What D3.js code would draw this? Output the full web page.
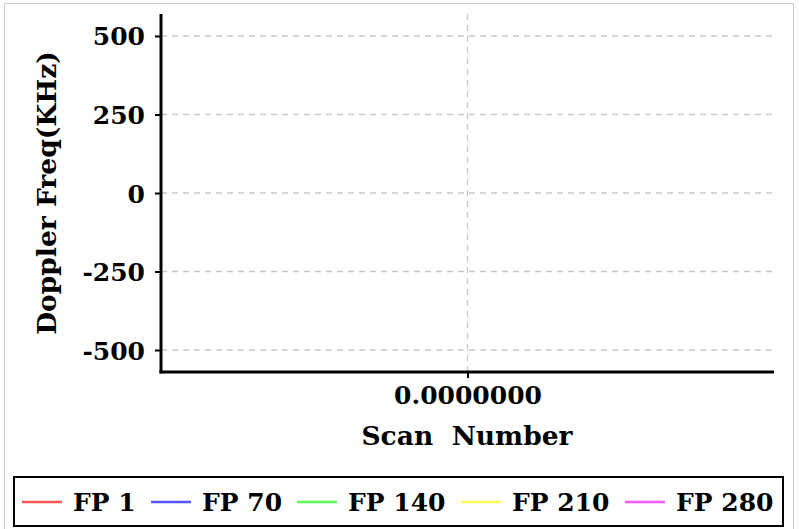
<!DOCTYPE html>
<html><head><meta charset="utf-8">
<script src="https://cdn.jsdelivr.net/npm/d3@7"></script>
<style>body{margin:0;background:#fff}svg{display:block}</style>
</head><body>
<svg id="c" width="799" height="529"></svg>
<script>
const seriesNames = ["FP 1", "FP 70", "FP 140", "FP 210", "FP 280"];
const seriesColors = ["#ff5555", "#5555ff", "#55ff55", "#ffff55", "#ff55ff"];
const seriesValues = [[], [], [], [], []];
const yTicks = [-500, -250, 0, 250, 500];
const xTicks = [0];
const yDomain = [-570, 570];
const xDomain = [-1, 1];

const svg = d3.select("#c");
const font = "'DejaVu Serif', serif";
const L = 161, R = 774, T = 14, B = 372;
const x = d3.scaleLinear().domain(xDomain).range([L, R]);
const y = d3.scaleLinear().domain(yDomain).range([B, T]);

// outer dotted border
svg.append("rect").attr("x", 4.5).attr("y", 3.5).attr("width", 789).attr("height", 540)
  .attr("fill", "none").attr("stroke", "#999").attr("stroke-width", 1).attr("stroke-dasharray", "1,1");

// grid
svg.append("g").selectAll("line").data(yTicks).join("line")
  .attr("x1", L).attr("x2", R).attr("y1", d => y(d)).attr("y2", d => y(d))
  .attr("stroke", "#c8c8c8").attr("stroke-width", 1.3).attr("stroke-dasharray", "6,5");
svg.append("g").selectAll("line").data(xTicks).join("line")
  .attr("x1", d => x(d)).attr("x2", d => x(d)).attr("y1", T).attr("y2", B)
  .attr("stroke", "#c8c8c8").attr("stroke-width", 1.3).attr("stroke-dasharray", "6,5");

// series lines (empty)
const line = d3.line().x((d, i) => x(i)).y(d => y(d));
svg.append("g").selectAll("path").data(seriesValues).join("path")
  .attr("d", d => d.length ? line(d) : null).attr("fill", "none")
  .attr("stroke", (d, i) => seriesColors[i]).attr("stroke-width", 2);

// y axis
const ya = svg.append("g").attr("transform", `translate(${L},0)`)
  .call(d3.axisLeft(y).tickValues(yTicks).tickSize(6).tickPadding(10).tickFormat(d => String(d)));
ya.select(".domain").remove();
ya.selectAll(".tick line").attr("stroke", "#000").attr("stroke-width", 2);
ya.selectAll(".tick text").attr("font-family", font).attr("font-weight", "bold")
  .attr("font-size", 25).attr("fill", "#000").attr("dy", "0.36em");
svg.append("line").attr("x1", L).attr("x2", L).attr("y1", T).attr("y2", B + 1.5)
  .attr("stroke", "#000").attr("stroke-width", 3);

// x axis
const xa = svg.append("g").attr("transform", `translate(0,${B})`)
  .call(d3.axisBottom(x).tickValues(xTicks).tickSize(6).tickPadding(8).tickFormat(d => d.toFixed(7)));
xa.select(".domain").remove();
xa.selectAll(".tick line").attr("stroke", "#000").attr("stroke-width", 2);
xa.selectAll(".tick text").attr("font-family", font).attr("font-weight", "bold")
  .attr("font-size", 25).attr("fill", "#000");
svg.append("line").attr("x1", L - 1.5).attr("x2", R).attr("y1", B).attr("y2", B)
  .attr("stroke", "#000").attr("stroke-width", 3);

// axis titles
svg.append("text").attr("x", 467).attr("y", 445).attr("text-anchor", "middle")
  .attr("font-family", font).attr("font-weight", "bold").attr("font-size", 26.5)
  .attr("xml:space", "preserve").text("Scan  Number");
svg.append("text").attr("transform", `translate(56,${y(0)}) rotate(-90)`).attr("text-anchor", "middle")
  .attr("font-family", font).attr("font-weight", "bold").attr("font-size", 26.5)
  .text("Doppler Freq(KHz)");

// legend
svg.append("rect").attr("x", 14).attr("y", 477).attr("width", 769).attr("height", 49)
  .attr("fill", "#fff").attr("stroke", "#000").attr("stroke-width", 2);
const legX = [22, 151, 297, 461, 625];
const lg = svg.append("g").selectAll("g").data(seriesNames).join("g")
  .attr("transform", (d, i) => `translate(${legX[i]},502)`);
lg.append("line").attr("x1", 0).attr("x2", 40).attr("y1", 0).attr("y2", 0)
  .attr("stroke", (d, i) => seriesColors[i]).attr("stroke-width", 2.5);
lg.append("text").attr("x", 51).attr("y", 0).attr("dy", "0.36em")
  .attr("font-family", font).attr("font-weight", "bold").attr("font-size", 25).text(d => d);
</script>
</body></html>
